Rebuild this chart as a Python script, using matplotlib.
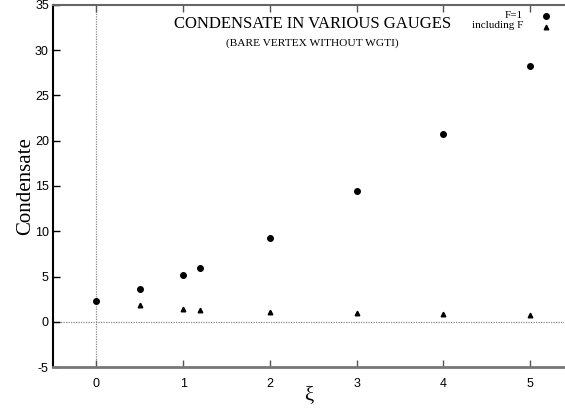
import matplotlib
matplotlib.use("Agg")
import matplotlib.pyplot as plt

# gauge parameter xi and condensate values
xi_f1 = [0, 0.5, 1, 1.2, 2, 3, 4, 5]
cond_f1 = [2.3, 3.6, 5.2, 5.9, 9.2, 14.4, 20.8, 28.3]
xi_incf = [0.5, 1, 1.2, 2, 3, 4, 5]
cond_incf = [1.8, 1.45, 1.35, 1.1, 0.95, 0.85, 0.8]

x_ticks = [0, 1, 2, 3, 4, 5]
y_ticks = [-5, 0, 5, 10, 15, 20, 25, 30, 35]

serif = ["Liberation Serif", "DejaVu Serif"]
sans = ["Liberation Sans", "DejaVu Sans"]

fig = plt.figure(figsize=(5.65, 4.13), dpi=100)
ax = fig.add_axes([53 / 565, 1 - 367 / 413, 511 / 565, 362 / 413])

ax.axvline(0, color="#888888", linestyle=(0, (1, 1)), linewidth=0.9, zorder=1)
ax.axhline(0, color="#888888", linestyle=(0, (1, 1)), linewidth=0.9, zorder=1)

ax.plot(xi_f1, cond_f1, "o", color="black", markersize=4.0, linestyle="none", zorder=3)
ax.plot(xi_incf, cond_incf, "^", color="black", markersize=3.3, linestyle="none", zorder=3)

ax.set_xlim(-0.5, 5.39)
ax.set_ylim(-5, 35)
ax.set_xticks(x_ticks)
ax.set_yticks(y_ticks)
ax.set_xticklabels([str(t) for t in x_ticks], family=sans, fontsize=9)
ax.set_yticklabels([str(t) for t in y_ticks], family=sans, fontsize=9)
ax.tick_params(axis="x", direction="in", top=True, length=5, width=1, color="#555555", pad=8)
ax.tick_params(axis="y", direction="in", length=5, width=1, pad=3)

ax.spines["left"].set_linewidth(1.5)
ax.spines["left"].set_color("black")
ax.spines["bottom"].set_linewidth(2)
ax.spines["bottom"].set_color("#777777")
ax.spines["top"].set_linewidth(1.5)
ax.spines["top"].set_color("#666666")
ax.spines["right"].set_visible(False)

ax.set_xlabel("ξ", family=serif, fontsize=15, labelpad=-3)
ax.set_ylabel("Condensate", family=serif, fontsize=15, labelpad=0)

ax.text(0.508, 0.97, "CONDENSATE IN VARIOUS GAUGES", transform=ax.transAxes,
        ha="center", va="top", family=serif, fontsize=12)
ax.text(0.508, 0.907, "(BARE VERTEX WITHOUT WGTI)", transform=ax.transAxes,
        ha="center", va="top", family=serif, fontsize=8.2)

# legend drawn by hand, gnuplot style
ax.text(0.92, 0.972, "F=1", transform=ax.transAxes, ha="right", va="center",
        family=serif, fontsize=8)
ax.text(0.92, 0.944, "including F", transform=ax.transAxes, ha="right", va="center",
        family=serif, fontsize=8)
ax.plot([0.965], [0.97], "o", color="black", markersize=4.0, transform=ax.transAxes)
ax.plot([0.965], [0.94], "^", color="black", markersize=3.3, transform=ax.transAxes)

fig.savefig("out.png", dpi=100)
